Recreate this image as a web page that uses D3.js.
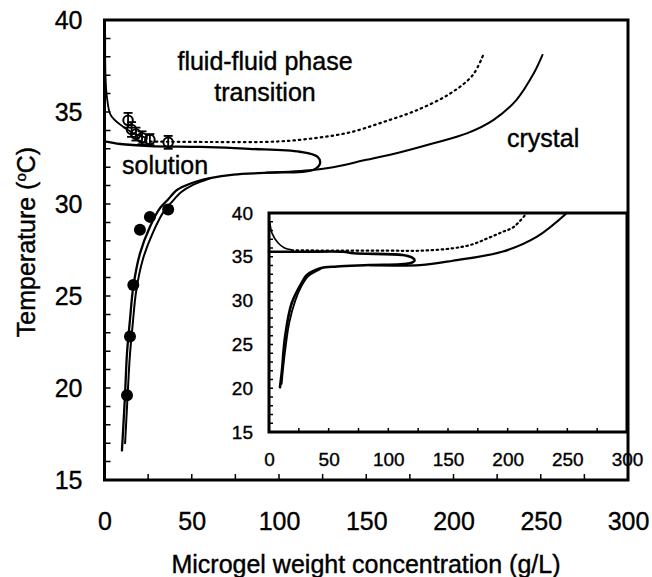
<!DOCTYPE html>
<html>
<head>
<meta charset="utf-8">
<script src="https://cdn.jsdelivr.net/npm/d3@7"></script>
<style>
  body { margin: 0; background: #fff; }
  svg { font-family: "Liberation Sans", Arial, sans-serif; }
  .domain { display: none; }
</style>
</head>
<body>
<div id="chart"></div>
<script>
// ---- main panel data (concentration g/L, temperature C) ----
const openConc = [13.5, 15.5, 18, 21.5, 26, 36.5];
const openTemp = [34.55, 34.05, 33.8, 33.6, 33.5, 33.35];
const openErr = [0.4, 0.4, 0.35, 0.35, 0.3, 0.35];

const filledConc = [12.9, 14.6, 16.5, 20.3, 26, 36.5];
const filledTemp = [19.6, 22.8, 25.6, 28.6, 29.3, 29.7];

// thin line falling from the top left corner
const topLeftConc = [0.4, 0.6, 1.4, 3.2, 5.5, 10.7, 16.4, 24];
const topLeftTemp = [39.2, 36.9, 35.8, 34.9, 34.6, 34.2, 33.85, 33.6];

// dotted fluid-fluid line
const dottedConc = [20, 60, 100, 122, 141, 160, 179, 198, 211, 217];
const dottedTemp = [33.4, 33.37, 33.4, 33.6, 33.9, 34.46, 35.1, 36.0, 37.0, 38.1];

// solution lens + coexistence curve
const lensConc = [0, 9, 26, 55, 83, 112, 122, 123.5, 119.5, 93, 74, 60.5, 49, 41.5, 36, 32, 26, 20.3, 16.5, 14.6, 12.9, 11.7, 10];
const lensTemp = [33.4, 33.26, 33.15, 33.1, 33.0, 32.84, 32.57, 32.2, 31.85, 31.7, 31.6, 31.4, 31.1, 30.76, 30.2, 29.8, 28.75, 27.3, 25.5, 23.7, 21.9, 19.5, 16.6];
// second (inner) branch of the coexistence curve
const innerConc = [60.5, 51, 44, 38.5, 34, 28, 22, 18.2, 16.2, 14.5, 13.2, 11.8];
const innerTemp = [31.4, 31.05, 30.65, 30.1, 29.6, 28.5, 27.0, 25.3, 23.5, 21.7, 19.5, 17.0];

// crystal boundary
const crystalConc = [93, 119.5, 131, 150, 169, 188.5, 208, 223, 236, 246, 251];
const crystalTemp = [31.7, 31.85, 32.0, 32.4, 32.8, 33.3, 33.85, 34.57, 35.65, 37.1, 38.1];

// ---- inset data ----
const inLeftConc = [0.8, 2.5, 7.5, 13, 19];
const inLeftTemp = [38.9, 37.7, 36.6, 36.0, 35.8];

const inDottedConc = [19, 60, 100, 127, 154, 170, 183, 195, 205, 216];
const inDottedTemp = [35.75, 35.7, 35.7, 35.7, 35.97, 36.4, 37.1, 37.8, 38.4, 40];

const inLensConc = [0, 30, 62, 71, 112, 120, 122, 118, 84, 57, 43, 31.5, 28.5, 19, 13.4, 10.9, 9.2];
const inLensTemp = [35.58, 35.58, 35.58, 35.4, 35.2, 34.9, 34.6, 34.26, 34.06, 33.9, 33.7, 32.9, 32.3, 29.7, 25.8, 22.1, 20.1];
const inInnerConc = [43, 33, 27, 22, 17, 14.2, 12, 10.6];
const inInnerTemp = [33.6, 32.8, 31.6, 30.0, 27.5, 25.0, 22.5, 20.5];

const inCrystalConc = [84, 126.6, 154, 196, 224.6, 249.6];
const inCrystalTemp = [34.06, 34.06, 34.55, 35.6, 37.3, 40];

const xTicks = [0, 50, 100, 150, 200, 250, 300];
const yTicks = [15, 20, 25, 30, 35, 40];
const xMinor = [0, 25, 50, 75, 100, 125, 150, 175, 200, 225, 250, 275, 300];
const yMinor = [15, 16, 17, 18, 19, 20, 21, 22, 23, 24, 25, 26, 27, 28, 29, 30, 31, 32, 33, 34, 35, 36, 37, 38, 39, 40];

const width = 652, height = 577;
const svg = d3.select("#chart").append("svg")
  .attr("width", width).attr("height", height);

// main scales
const x = d3.scaleLinear().domain([0, 300]).range([104.5, 628]);
const y = d3.scaleLinear().domain([15, 40]).range([480, 20]);

// inset scales
const xi = d3.scaleLinear().domain([0, 300]).range([269, 627]);
const yi = d3.scaleLinear().domain([15, 40]).range([432, 213]);

function drawLabels(g, sx, sy, opt) {
  const [x0] = sx.range();
  const [y0] = sy.range();
  g.append("g").attr("transform", `translate(0,${y0})`)
    .call(d3.axisBottom(sx).tickValues(xTicks).tickSize(0).tickPadding(opt.xPad))
    .selectAll("text").attr("font-size", opt.font);
  g.append("g").attr("transform", `translate(${x0},0)`)
    .call(d3.axisLeft(sy).tickValues(yTicks).tickSize(0).tickPadding(opt.yPad))
    .selectAll("text").attr("font-size", opt.font);
  g.selectAll("g").attr("font-family", null);
  g.selectAll(".tick text").attr("fill", "#000")
    .attr("stroke", "#000").attr("stroke-width", 0.35);
}

// frame with inward minor ticks, drawn as one path
function drawFrame(g, sx, sy, tick) {
  const [x0, x1] = sx.range();
  const [y0, y1] = sy.range();
  const p = d3.path();
  xMinor.forEach(v => { p.moveTo(sx(v), y0); p.lineTo(sx(v), y0 - tick); });
  yMinor.forEach(v => { p.moveTo(x0, sy(v)); p.lineTo(x0 + tick, sy(v)); });
  g.append("path").attr("d", p.toString())
    .attr("fill", "none").attr("stroke", "#000").attr("stroke-width", 1.5);
  g.append("rect")
    .attr("x", x0).attr("y", y1)
    .attr("width", x1 - x0).attr("height", y0 - y1)
    .attr("fill", "none").attr("stroke", "#000").attr("stroke-width", 3);
}

function curve(g, sx, sy, cs, ts, w, dash) {
  const line = d3.line().x(d => sx(d[0])).y(d => sy(d[1])).curve(d3.curveCatmullRom.alpha(0.5));
  g.append("path")
    .datum(d3.zip(cs, ts))
    .attr("d", line)
    .attr("fill", "none")
    .attr("stroke", "#000")
    .attr("stroke-width", w)
    .attr("stroke-linecap", "round")
    .attr("stroke-dasharray", dash || null);
}

const main = svg.append("g");

curve(main, x, y, topLeftConc, topLeftTemp, 1.8);
curve(main, x, y, dottedConc, dottedTemp, 2.2, "1.5,4");
curve(main, x, y, lensConc, lensTemp, 2.3);
curve(main, x, y, innerConc, innerTemp, 2);
curve(main, x, y, crystalConc, crystalTemp, 2);

// open points with error bars
const openG = main.append("g");
openConc.forEach((c, i) => {
  const cx = x(c), cy = y(openTemp[i]);
  const e0 = y(openTemp[i] + openErr[i]), e1 = y(openTemp[i] - openErr[i]);
  openG.append("line").attr("x1", cx).attr("x2", cx).attr("y1", e0).attr("y2", e1)
    .attr("stroke", "#000").attr("stroke-width", 1.8);
  [e0, e1].forEach(ey => openG.append("line")
    .attr("x1", cx - 4.5).attr("x2", cx + 4.5).attr("y1", ey).attr("y2", ey)
    .attr("stroke", "#000").attr("stroke-width", 1.8));
  openG.append("circle").attr("cx", cx).attr("cy", cy).attr("r", 4.8)
    .attr("fill", "none").attr("stroke", "#000").attr("stroke-width", 2);
});

// filled points
main.append("g").selectAll("circle")
  .data(d3.zip(filledConc, filledTemp))
  .join("circle")
  .attr("cx", d => x(d[0])).attr("cy", d => y(d[1]))
  .attr("r", 6).attr("fill", "#000");

drawLabels(main, x, y, { font: 25, xPad: 32, yPad: 22 });

// region labels
const lab = main.append("g").attr("font-size", 25).attr("fill", "#000")
  .attr("stroke", "#000").attr("stroke-width", 0.4);
lab.append("text").attr("x", 265).attr("y", 70).attr("text-anchor", "middle").text("fluid-fluid phase");
lab.append("text").attr("x", 265).attr("y", 101).attr("text-anchor", "middle").text("transition");
lab.append("text").attr("x", 122).attr("y", 174).text("solution");
lab.append("text").attr("x", 507).attr("y", 147).text("crystal");

// axis titles
svg.append("text")
  .attr("x", 366).attr("y", 573)
  .attr("text-anchor", "middle").attr("font-size", 25)
  .attr("stroke", "#000").attr("stroke-width", 0.4)
  .text("Microgel weight concentration (g/L)");

const yt = svg.append("text")
  .attr("transform", "translate(35,242) rotate(-90)")
  .attr("text-anchor", "middle").attr("font-size", 25)
  .attr("stroke", "#000").attr("stroke-width", 0.4);
yt.append("tspan").text("Temperature (");
yt.append("tspan").attr("font-size", 15).attr("dy", -9).text("o");
yt.append("tspan").attr("dy", 9).text("C)");

drawFrame(svg.append("g"), x, y, 6);

// ---- inset ----
const inset = svg.append("g");
inset.append("rect")
  .attr("x", xi.range()[0]).attr("y", yi.range()[1])
  .attr("width", xi.range()[1] - xi.range()[0])
  .attr("height", yi.range()[0] - yi.range()[1])
  .attr("fill", "#fff");

curve(inset, xi, yi, inLeftConc, inLeftTemp, 1.6);
curve(inset, xi, yi, inDottedConc, inDottedTemp, 2.2, "1.5,3.5");
curve(inset, xi, yi, inLensConc, inLensTemp, 2.6);
curve(inset, xi, yi, inInnerConc, inInnerTemp, 1.8);
curve(inset, xi, yi, inCrystalConc, inCrystalTemp, 2.2);

drawLabels(inset, xi, yi, { font: 19, xPad: 21, yPad: 16 });
drawFrame(svg.append("g"), xi, yi, 4);
</script>
</body>
</html>
